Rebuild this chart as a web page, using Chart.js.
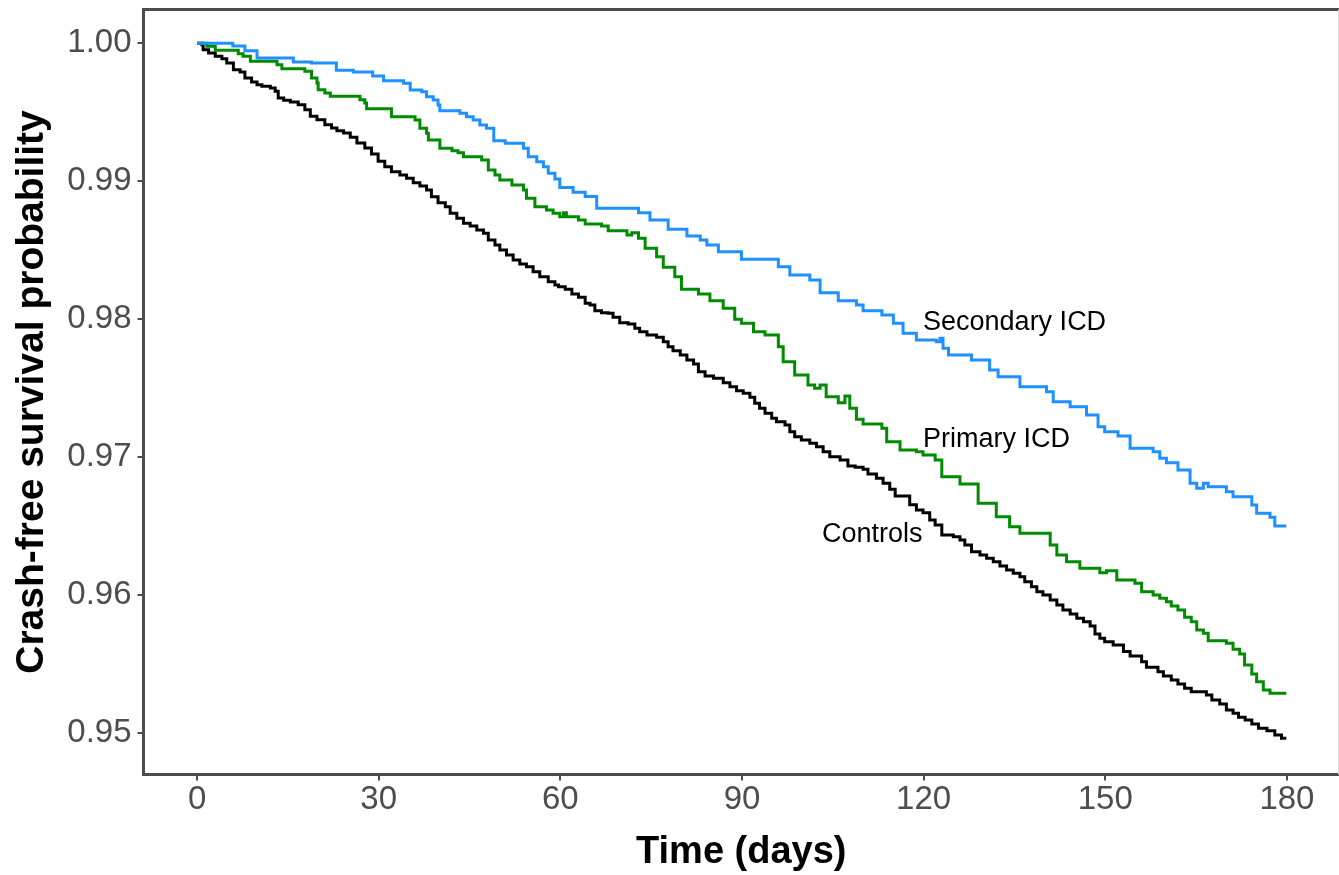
<!DOCTYPE html>
<html>
<head>
<meta charset="utf-8">
<script src="https://cdn.jsdelivr.net/npm/chart.js@4.4.1/dist/chart.umd.min.js"></script>
<style>
  html, body { margin:0; padding:0; background:#fff; }
  canvas { display:block; }
</style>
</head>
<body>
<canvas id="km" width="1339" height="875"></canvas>
<script>
// survival curves: [day, probability]
const secondaryICD = [
  [0,1.0],[5.9,0.9998],[7.9,0.99946],[9.9,0.99893],[15.9,0.99864],[18.9,0.99857],[23.0,0.99804],[25.8,0.99792],
  [29.0,0.99763],[30.8,0.99729],[34.1,0.9971],[35.2,0.99661],[37.1,0.99649],[37.9,0.99613],[39.0,0.99589],[39.8,0.99553],
  [40.1,0.99511],[43.4,0.99492],[44.5,0.99468],[45.6,0.99444],[46.7,0.99407],[47.8,0.99384],[49.0,0.99294],[50.9,0.99275],
  [53.9,0.99238],[54.7,0.99178],[56.1,0.99141],[57.2,0.99105],[58.0,0.99057],[59.1,0.99015],[59.9,0.98955],[62.1,0.98919],
  [64.1,0.98888],[66.0,0.98803],[72.9,0.98771],[74.8,0.98718],[77.8,0.98651],[80.9,0.98602],[83.1,0.98573],[84.2,0.98537],
  [86.1,0.98489],[89.9,0.98433],[96.0,0.98379],[97.9,0.98319],[101.2,0.98283],[102.9,0.98191],[105.9,0.98133],[108.9,0.98102],
  [110.0,0.98061],[113.1,0.98029],[115.0,0.97969],[116.6,0.97897],[118.8,0.97848],[122.1,0.97836],[122.7,0.9786],[123.2,0.97788],
  [124.1,0.97739],[127.9,0.97703],[130.9,0.9763],[132.3,0.97582],[135.9,0.97509],[140.3,0.97473],[141.4,0.97401],[144.2,0.97364],
  [146.9,0.97304],[148.8,0.97219],[149.9,0.97183],[152.1,0.97152],[154.1,0.97063],[157.9,0.97038],[159.0,0.9699],[160.1,0.96958],
  [162.0,0.96905],[164.0,0.96809],[165.1,0.96773],[166.2,0.96809],[167.0,0.96784],[170.0,0.96748],[171.1,0.96712],[174.2,0.96651],
  [175.0,0.96591],[177.2,0.96562],[178.0,0.96499],[179.9,0.96499]
];

const primaryICD = [
  [0,1.0],[1.6,0.99978],[3.0,0.99949],[6.8,0.99925],[7.6,0.99906],[8.8,0.99869],[13.2,0.99845],[14.0,0.99816],
  [17.8,0.99797],[18.9,0.99748],[19.8,0.99712],[20.0,0.99663],[21.1,0.9964],[22.0,0.99616],[26.9,0.99591],[27.7,0.99567],
  [28.0,0.99526],[32.1,0.99468],[36.0,0.99444],[36.8,0.99384],[37.9,0.99347],[38.2,0.99299],[40.1,0.99238],[42.1,0.99221],
  [43.1,0.99207],[44.0,0.99178],[47.0,0.99154],[48.1,0.99081],[49.2,0.99045],[50.0,0.99009],[52.0,0.98972],[53.9,0.98936],
  [54.4,0.98876],[55.8,0.98815],[57.7,0.98791],[58.8,0.98767],[59.9,0.98742],[60.5,0.98771],[61.0,0.98742],[63.0,0.98718],
  [64.1,0.98689],[66.8,0.98675],[67.9,0.98641],[71.0,0.9861],[71.8,0.98626],[72.9,0.98586],[74.0,0.98513],[75.9,0.98452],
  [77.0,0.98375],[78.9,0.98307],[80.0,0.98216],[82.8,0.98182],[84.7,0.98133],[86.9,0.98078],[88.8,0.97998],[89.9,0.97969],
  [91.9,0.97908],[93.8,0.97884],[96.0,0.978],[96.8,0.97691],[98.7,0.97594],[100.9,0.97522],[102.0,0.97498],[102.9,0.97522],
  [103.9,0.97437],[105.9,0.97393],[107.0,0.97442],[107.8,0.97353],[108.9,0.97273],[110.0,0.97239],[113.1,0.97208],[113.9,0.9711],
  [116.1,0.9705],[118.8,0.97038],[119.9,0.97014],[121.9,0.96978],[123.0,0.96857],[126.0,0.96804],[129.0,0.96664],[132.0,0.96567],
  [134.2,0.96494],[135.9,0.96446],[140.9,0.96361],[142.0,0.96289],[143.6,0.9624],[145.8,0.96192],[149.1,0.9616],[150.2,0.96175],
  [151.9,0.96107],[154.9,0.96084],[156.0,0.96023],[157.9,0.95999],[159.0,0.95975],[160.1,0.9595],[160.9,0.95919],[162.0,0.9589],
  [163.1,0.95837],[164.2,0.95805],[165.1,0.95745],[166.2,0.95721],[167.0,0.95667],[170.0,0.95648],[171.1,0.95605],[172.2,0.95571],
  [173.0,0.95491],[174.2,0.95426],[175.0,0.9537],[176.1,0.9531],[177.2,0.95286],[179.9,0.95286]
];

const controls = [
  [0,1.0],[0.8,0.9999],[1.0,0.99954],[1.9,0.9993],[3.0,0.99906],[4.1,0.99888],[4.9,0.99857],[6.0,0.99809],
  [7.1,0.99792],[7.9,0.99748],[9.0,0.99719],[9.9,0.997],[10.7,0.99688],[12.1,0.99676],[12.9,0.99652],[13.4,0.99603],
  [14.3,0.99587],[15.4,0.99574],[16.7,0.99555],[17.8,0.99518],[18.7,0.99471],[19.8,0.99446],[21.1,0.9941],[22.2,0.99386],
  [23.1,0.99366],[24.2,0.99349],[25.3,0.99318],[26.4,0.99277],[27.7,0.99241],[28.8,0.99197],[29.9,0.99144],[31.0,0.99105],
  [32.1,0.99069],[33.5,0.99045],[34.6,0.99021],[35.7,0.98989],[36.8,0.98965],[37.9,0.98936],[38.7,0.98887],[39.8,0.98844],
  [41.0,0.98815],[41.8,0.98767],[42.9,0.98731],[44.0,0.98694],[45.1,0.98675],[46.2,0.98646],[47.3,0.98622],[48.1,0.98573],
  [49.2,0.98537],[50.0,0.98501],[51.1,0.98465],[52.2,0.98428],[53.3,0.98399],[54.4,0.9838],[55.5,0.98343],[56.6,0.98307],
  [58.0,0.98271],[59.1,0.98247],[59.7,0.98235],[60.8,0.98216],[61.9,0.98182],[63.0,0.98158],[64.1,0.98114],[64.9,0.98102],
  [65.7,0.98061],[66.8,0.98046],[67.9,0.98042],[68.7,0.98013],[69.8,0.97974],[71.2,0.97964],[72.3,0.97933],[73.1,0.97908],
  [74.3,0.97884],[75.9,0.97868],[77.0,0.97836],[77.8,0.978],[78.6,0.97771],[79.8,0.97739],[80.9,0.97703],[82.0,0.97674],
  [82.8,0.97618],[83.9,0.97587],[85.3,0.9757],[86.9,0.97538],[88.0,0.97509],[89.1,0.9748],[90.2,0.97462],[91.3,0.97433],
  [92.1,0.97389],[92.9,0.97353],[93.8,0.97316],[94.9,0.9728],[95.7,0.97256],[97.1,0.97232],[97.9,0.97183],[98.7,0.97147],
  [99.8,0.97123],[101.2,0.97099],[102.3,0.97074],[103.4,0.97038],[104.5,0.97002],[106.2,0.96978],[107.5,0.96934],[108.7,0.96925],
  [110.0,0.9691],[110.8,0.96876],[112.2,0.96845],[113.3,0.96809],[114.4,0.96765],[115.3,0.96717],[117.7,0.96653],[118.8,0.96615],
  [119.9,0.96596],[121.0,0.96543],[121.9,0.96506],[123.0,0.96434],[124.9,0.96422],[126.0,0.96398],[126.8,0.96361],[127.9,0.96313],
  [129.3,0.96289],[130.4,0.96265],[131.5,0.9624],[132.6,0.96209],[133.7,0.9618],[134.8,0.96156],[135.9,0.96131],[136.7,0.96095],
  [137.8,0.96059],[138.7,0.96023],[139.7,0.95999],[140.9,0.95962],[142.0,0.95926],[143.0,0.9589],[144.2,0.95861],[145.3,0.9583],
  [146.4,0.95805],[147.5,0.95774],[148.3,0.95716],[149.1,0.95685],[149.9,0.9566],[151.3,0.95636],[153.0,0.95588],[154.1,0.95556],
  [156.0,0.95515],[156.8,0.95474],[158.7,0.95442],[159.6,0.95411],[160.9,0.95382],[162.0,0.95353],[163.1,0.95322],[164.2,0.95297],
  [166.7,0.95273],[167.6,0.95237],[168.9,0.95208],[170.0,0.95165],[171.1,0.95141],[172.0,0.95112],[173.1,0.95092],[174.2,0.95063],
  [175.3,0.95032],[176.7,0.95015],[178.0,0.94984],[179.1,0.9496],[179.9,0.9496]
];

const xTicks = [0, 30, 60, 90, 120, 150, 180];
const yTicks = [0.95, 0.96, 0.97, 0.98, 0.99, 1.00];

// curve labels, anchored in data units (text baseline)
const curveLabels = [
  { text:'Secondary ICD', x:119.9, y:0.97921, align:'left' },
  { text:'Primary ICD',   x:119.9, y:0.97074, align:'left' },
  { text:'Controls',      x:119.8, y:0.96385, align:'right' }
];

const FONT = '"Liberation Sans", Arial, Helvetica, sans-serif';
const AXIS = '#4D4D4D';

const toXY = arr => arr.map(p => ({ x:p[0], y:p[1] }));

const framePlugin = {
  id:'frame',
  afterDraw(chart){
    const { ctx, chartArea:a } = chart;
    ctx.save();
    ctx.strokeStyle = AXIS;
    ctx.lineWidth = 3;
    ctx.beginPath();
    ctx.moveTo(a.right, a.top); ctx.lineTo(a.left, a.top);
    ctx.lineTo(a.left, a.bottom); ctx.lineTo(a.right, a.bottom);
    ctx.stroke();
    ctx.strokeStyle = '#d9d9d9';
    ctx.lineWidth = 1;
    ctx.beginPath(); ctx.moveTo(a.right - 0.5, a.top); ctx.lineTo(a.right - 0.5, a.bottom); ctx.stroke();
    ctx.restore();
  }
};

const labelPlugin = {
  id:'curveLabels',
  afterDatasetsDraw(chart){
    const { ctx, scales } = chart;
    ctx.save();
    ctx.font = '27px ' + FONT;
    ctx.fillStyle = '#000';
    ctx.textBaseline = 'alphabetic';
    curveLabels.forEach(l => {
      ctx.textAlign = l.align;
      ctx.fillText(l.text, scales.x.getPixelForValue(l.x), scales.y.getPixelForValue(l.y));
    });
    ctx.restore();
  }
};

new Chart(document.getElementById('km'), {
  type:'line',
  data:{
    datasets:[
      { label:'Secondary ICD', data:toXY(secondaryICD), borderColor:'#1E90FF', borderWidth:3, stepped:true, pointRadius:0, fill:false },
      { label:'Primary ICD',   data:toXY(primaryICD),   borderColor:'#008B00', borderWidth:3, stepped:true, pointRadius:0, fill:false },
      { label:'Controls',      data:toXY(controls),     borderColor:'#000000', borderWidth:3, stepped:true, pointRadius:0, fill:false }
    ]
  },
  options:{
    responsive:false,
    devicePixelRatio:1,
    animation:false,
    layout:{ padding:{ top:9.5, left:0, right:0, bottom:0 } },
    plugins:{ legend:{ display:false }, tooltip:{ enabled:false } },
    scales:{
      x:{
        type:'linear', min:-8.85, max:188.6,
        afterBuildTicks: s => { s.ticks = xTicks.map(v => ({ value:v })); },
        afterFit: s => { s.height = 100.5; s.paddingLeft = 0; s.paddingRight = 0; },
        grid:{ drawOnChartArea:false, tickLength:6, color:AXIS, lineWidth:2 },
        border:{ display:false },
        ticks:{ font:{ family:FONT, size:33 }, color:AXIS, padding:0, maxRotation:0, autoSkip:false },
        title:{ display:true, text:'Time (days)', color:'#000', font:{ family:FONT, size:38, weight:'bold' }, padding:{ top:0, bottom:0 } }
      },
      y:{
        type:'linear', min:0.946968, max:1.002451,
        afterBuildTicks: s => { s.ticks = yTicks.map(v => ({ value:v })); },
        afterFit: s => { s.width = 143.5; s.paddingTop = 0; s.paddingBottom = 0; },
        grid:{ drawOnChartArea:false, tickLength:6, color:AXIS, lineWidth:2 },
        border:{ display:false },
        ticks:{ font:{ family:FONT, size:33 }, color:AXIS, padding:6, autoSkip:false, callback: v => v.toFixed(2) },
        title:{ display:true, text:'Crash-free survival probability', color:'#000', font:{ family:FONT, size:39, weight:'bold' }, padding:{ top:9, bottom:0 } }
      }
    }
  },
  plugins:[framePlugin, labelPlugin]
});
</script>
</body>
</html>
